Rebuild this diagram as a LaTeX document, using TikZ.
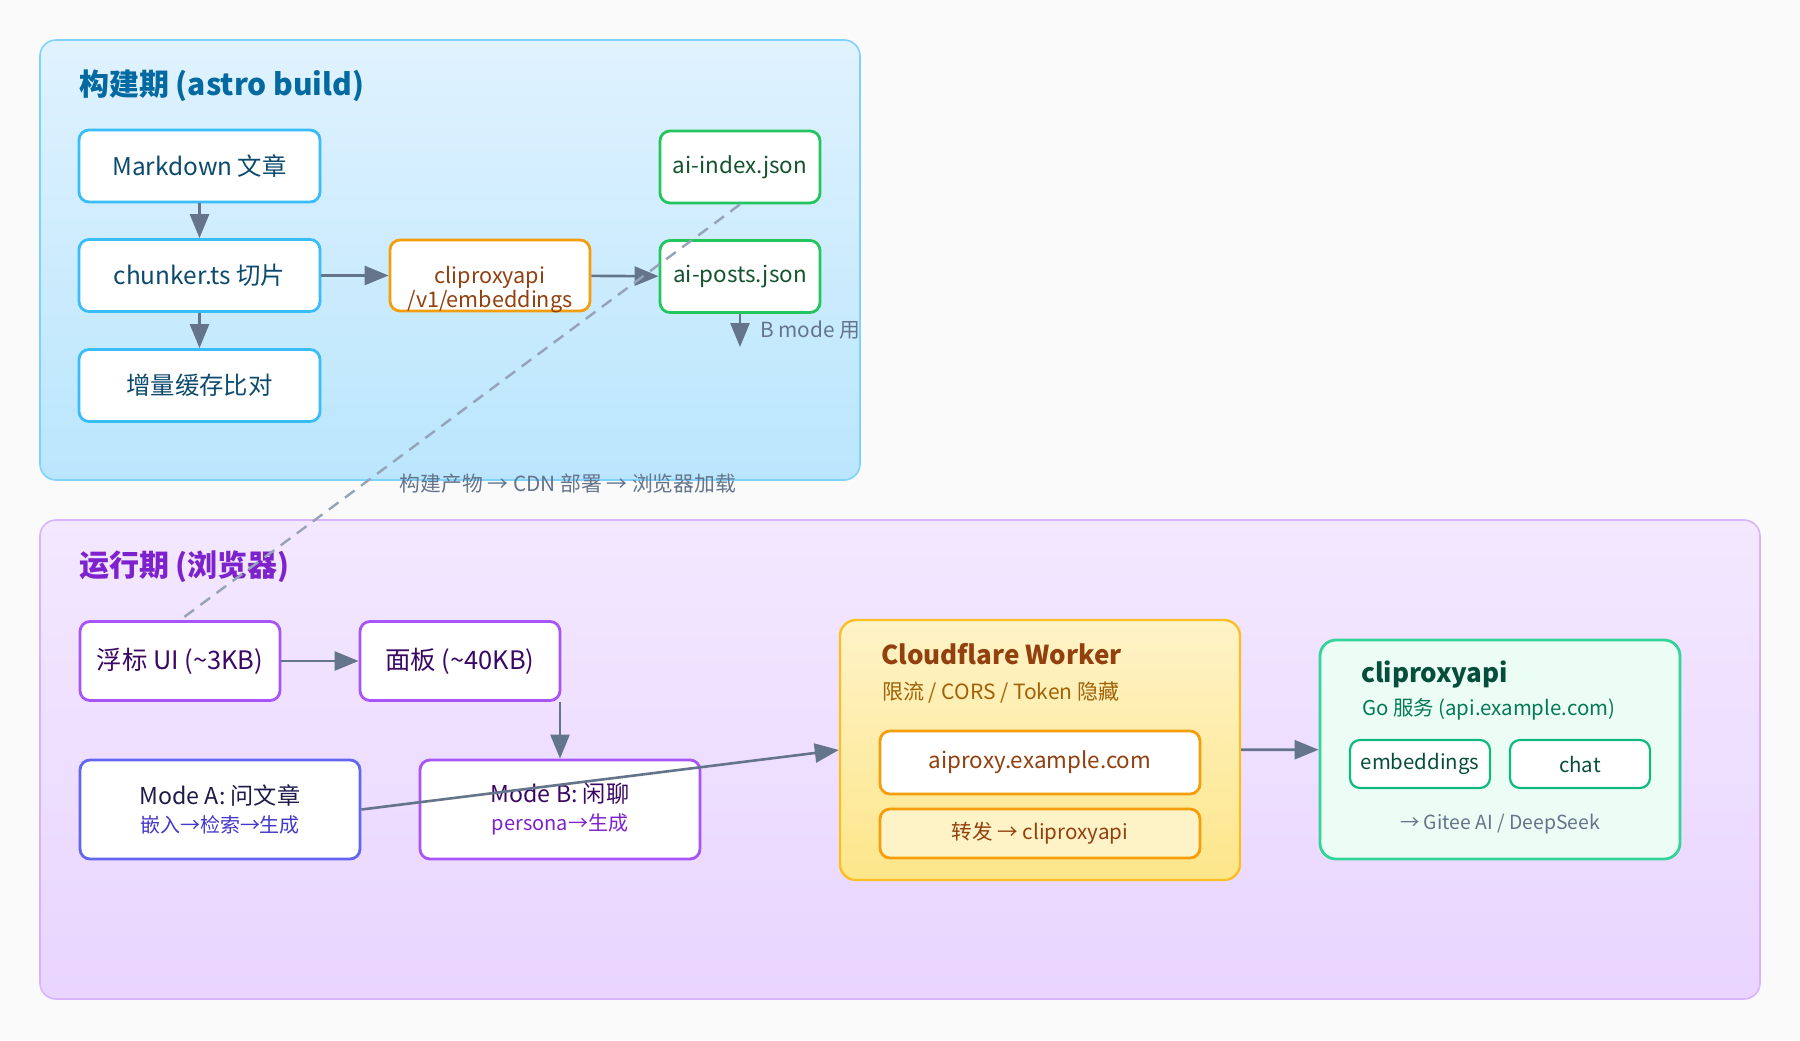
\documentclass[tikz,border=0pt]{standalone}
\usepackage{fontspec}
\setmainfont{Noto Sans CJK SC}
\usepackage{xcolor}
\usetikzlibrary{arrows.meta, positioning}

\definecolor{bgcol}{HTML}{FAFAFA}
\definecolor{arrowgray}{HTML}{64748B}
\definecolor{dashgray}{HTML}{94A3B8}
\definecolor{buildtop}{HTML}{E0F2FE}
\definecolor{buildbot}{HTML}{BAE6FD}
\definecolor{buildline}{HTML}{7DD3FC}
\definecolor{buildtitle}{HTML}{0369A1}
\definecolor{skyline}{HTML}{38BDF8}
\definecolor{skytext}{HTML}{0C4A6E}
\definecolor{orangeline}{HTML}{F59E0B}
\definecolor{orangetext}{HTML}{92400E}
\definecolor{greenline}{HTML}{22C55E}
\definecolor{greentext}{HTML}{14532D}
\definecolor{runtop}{HTML}{F3E8FF}
\definecolor{runbot}{HTML}{E9D5FF}
\definecolor{runline}{HTML}{D8B4FE}
\definecolor{runtitle}{HTML}{7E22CE}
\definecolor{purpleline}{HTML}{A855F7}
\definecolor{purpletext}{HTML}{3B0764}
\definecolor{indigoline}{HTML}{6366F1}
\definecolor{indigotext}{HTML}{1E1B4B}
\definecolor{indigosub}{HTML}{4338CA}
\definecolor{workertop}{HTML}{FEF3C7}
\definecolor{workerbot}{HTML}{FDE68A}
\definecolor{workerline}{HTML}{FBBF24}
\definecolor{workersub}{HTML}{A16207}
\definecolor{apifill}{HTML}{ECFDF5}
\definecolor{apiline}{HTML}{34D399}
\definecolor{apiinner}{HTML}{10B981}
\definecolor{apititle}{HTML}{064E3B}
\definecolor{apisub}{HTML}{047857}

\begin{document}
\begin{tikzpicture}[x=0.5pt, y=-0.5pt,
    >={Triangle[length=12pt, width=9.5pt]},
    flow/.style={->, draw=arrowgray, line width=1.3pt},
    panel/.style={rounded corners=8pt, line width=0.8pt, inner sep=0pt},
    box/.style={draw, fill=white, rounded corners=5pt, line width=1.4pt,
        inner sep=0pt, align=center, font=\fontsize{12.2}{14}\selectfont},
    title/.style={anchor=west, font=\fontsize{15}{17}\selectfont\bfseries},
    cardtitle/.style={anchor=west, font=\fontsize{13}{15}\selectfont\bfseries},
    small/.style={font=\fontsize{10.4}{12}\selectfont, text=arrowgray}]

    % background
    \fill[bgcol] (0, 0) rectangle (1800, 1040);

    % Build panel
    \node[panel, draw=buildline, top color=buildtop, bottom color=buildbot,
        minimum width=410pt, minimum height=220pt] (build) at (450, 260) {};
    \node[title, text=buildtitle] (buildtitle) at (72, 86) {构建期 (astro build)};

    \node[box, draw=skyline, text=skytext, minimum width=120.5pt, minimum height=36pt] (markdown) at (199.5, 166) {Markdown 文章};
    \node[box, draw=skyline, text=skytext, minimum width=120.5pt, minimum height=36pt] (chunker) at (199.5, 275.5) {chunker.ts 切片};
    \node[box, draw=skyline, text=skytext, minimum width=120.5pt, minimum height=36pt] (cache) at (199.5, 385.5) {增量缓存比对};
    \node[box, draw=orangeline, minimum width=100pt, minimum height=35.5pt] (embed) at (490, 275.5) {};
    \node[align=center, text=orangetext, font=\fontsize{10.8}{12}\selectfont] (embedtext) at (490, 290) {cliproxyapi\\/v1/embeddings};
    \node[box, draw=greenline, text=greentext, minimum width=80pt, minimum height=36pt,
        font=\fontsize{11.2}{13}\selectfont] (aiindex) at (740, 167) {ai-index.json};
    \node[box, draw=greenline, text=greentext, minimum width=80pt, minimum height=36pt,
        font=\fontsize{11.2}{13}\selectfont] (aiposts) at (740, 276.5) {ai-posts.json};
    \coordinate (bmode) at (740, 347);
    \node[small, anchor=west] (bmodetext) at (753, 330) {B mode 用};

    \draw[flow] (markdown) -- (chunker);
    \draw[flow] (chunker) -- (cache);
    \draw[flow] (chunker) -- (embed);
    \draw[flow] (embed) -- (aiposts);
    \draw[flow] (aiposts) -- (bmode);

    \node[small] (deploy) at (568, 484) {构建产物 → CDN 部署 → 浏览器加载};

    % Runtime panel
    \node[panel, draw=runline, top color=runtop, bottom color=runbot,
        minimum width=860pt, minimum height=239.5pt] (run) at (900, 759.5) {};
    \node[title, text=runtitle] (runtitle) at (72, 567) {运行期 (浏览器)};

    \node[box, draw=purpleline, text=purpletext, minimum width=100pt, minimum height=39.5pt,
        font=\fontsize{12.7}{14}\selectfont] (fubiao) at (180, 661) {浮标 UI (\textasciitilde3KB)};
    \node[box, draw=purpleline, text=purpletext, minimum width=100pt, minimum height=39.5pt,
        font=\fontsize{12.7}{14}\selectfont] (mianban) at (460, 661) {面板 (\textasciitilde40KB)};
    \node[box, draw=indigoline, text=indigotext, minimum width=140pt, minimum height=49.5pt,
        font=\fontsize{11.6}{13}\selectfont] (modea) at (220, 809.5)
        {Mode A: 问文章\\[1pt]{\fontsize{10}{12}\selectfont\color{indigosub}嵌入→检索→生成}};
    \node[box, draw=purpleline, text=purpletext, minimum width=140pt, minimum height=49.5pt,
        font=\fontsize{11.6}{13}\selectfont] (modeb) at (560, 809.5)
        {Mode B: 闲聊\\[1pt]{\fontsize{10}{12}\selectfont\color{runtitle}persona→生成}};

    % Cloudflare Worker
    \node[panel, draw=workerline, line width=1.2pt, top color=workertop, bottom color=workerbot,
        minimum width=200pt, minimum height=130pt] (worker) at (1040, 750) {};
    \node[cardtitle, text=orangetext] (workertitle) at (874, 654) {Cloudflare Worker};
    \node[anchor=west, text=workersub, font=\fontsize{10.5}{12}\selectfont] (workersub) at (875, 693) {限流 / CORS / Token 隐藏};
    \node[box, draw=orangeline, text=orangetext, minimum width=160pt, minimum height=31.5pt,
        font=\fontsize{11.2}{13}\selectfont] (aiproxy) at (1040, 762.5) {aiproxy.example.com};
    \node[box, draw=orangeline, fill=workertop, text=orangetext, minimum width=160pt, minimum height=24.5pt,
        font=\fontsize{10.3}{12}\selectfont] (forward) at (1040, 833.5) {转发 → cliproxyapi};

    % cliproxyapi service
    \node[panel, draw=apiline, line width=1.4pt, fill=apifill,
        minimum width=180pt, minimum height=109.5pt] (api) at (1500, 749.5) {};
    \node[cardtitle, text=apititle] (apititle) at (1354, 675) {cliproxyapi};
    \node[anchor=west, text=apisub, font=\fontsize{10.2}{12}\selectfont] (apisub) at (1355, 709) {Go 服务 (api.example.com)};
    \node[box, draw=apiinner, text=apititle, line width=1.1pt, minimum width=70pt, minimum height=24pt,
        font=\fontsize{10.2}{12}\selectfont] (embeddings) at (1420, 764) {embeddings};
    \node[box, draw=apiinner, text=apititle, line width=1.1pt, minimum width=70pt, minimum height=24pt,
        font=\fontsize{10.2}{12}\selectfont] (chat) at (1580, 764) {chat};
    \node[small, font=\fontsize{9.7}{11}\selectfont] (gitee) at (1500, 824) {→ Gitee AI / DeepSeek};

    \draw[flow] (fubiao) -- (mianban);
    \draw[flow] (modeb.north |- mianban.south) -- (modeb.north);
    \draw[flow] (modea.east) -- (worker.west);
    \draw[flow] (worker) -- (api);

    % build output -> browser
    \draw[dashgray, line width=1.2pt, dash pattern=on 6pt off 4pt] (aiindex.south) -- (fubiao.north);
\end{tikzpicture}
\end{document}
